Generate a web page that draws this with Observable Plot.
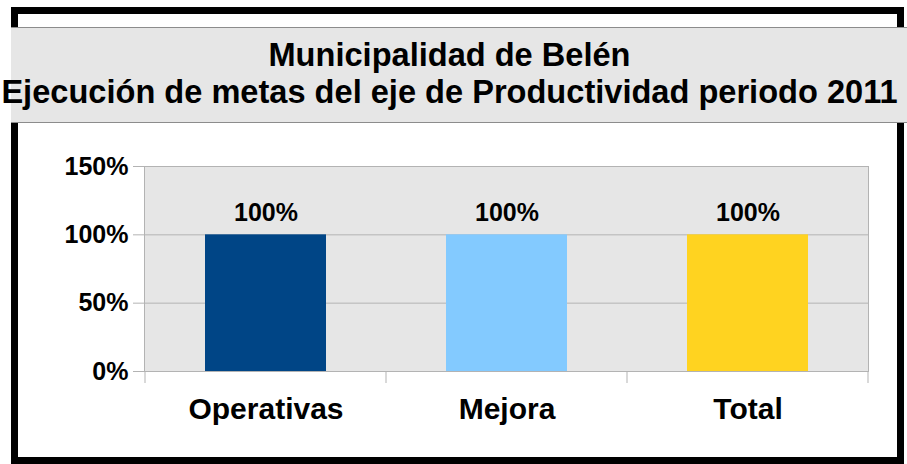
<!DOCTYPE html>
<html>
<head>
<meta charset="utf-8">
<script src="https://cdn.jsdelivr.net/npm/d3@7"></script>
<script src="https://cdn.jsdelivr.net/npm/@observablehq/plot@0.6"></script>
<style>
  html, body { margin: 0; padding: 0; background: #ffffff; }
  #wrap { position: relative; width: 907px; height: 464px; overflow: hidden; background: #fff;
          font-family: "Liberation Sans", Arial, sans-serif; }
  #border { position: absolute; left: 11px; top: 7px; width: 879px; height: 443px;
            border: 7px solid #000; z-index: 2; pointer-events: none; }
  #band { position: absolute; left: 11px; top: 27px; width: 896px; height: 94px;
          background: #e6e6e6; border-top: 1px solid #8c8c8c; border-bottom: 1px solid #8c8c8c; z-index: 3; }
  #title { position: absolute; left: 0; top: 36px; width: 899px; text-align: center; z-index: 4;
           font-weight: bold; font-size: 32.6px; line-height: 37px; color: #000; white-space: nowrap; }
  #chart { position: absolute; left: 0; top: 130px; z-index: 1; }
  #chart svg { background: transparent !important; }
</style>
</head>
<body>
<div id="wrap">
  <div id="border"></div>
  <div id="band"></div>
  <div id="title"><div>Municipalidad de Belén</div><div>Ejecución de metas del eje de Productividad periodo 2011</div></div>
  <div id="chart"></div>
</div>
<script>
const categories = ["Operativas", "Mejora", "Total"];
const values = [1.0, 1.0, 1.0];
const colors = ["#004586", "#83caff", "#ffd320"];
const yTicks = [0, 0.5, 1, 1.5];

const data = categories.map((c, i) => ({cat: c, value: values[i], color: colors[i]}));
const pct = d3.format(".0%");
const font = "'Liberation Sans', Arial, sans-serif";

const chart = Plot.plot({
  width: 907,
  height: 327,
  marginLeft: 144,
  marginRight: 39,
  marginTop: 36,
  marginBottom: 86,
  style: {fontFamily: font, background: "transparent", color: "#000"},
  x: {domain: categories, padding: 0, axis: null, label: null},
  y: {domain: [0, 1.5], axis: null, label: null},
  marks: [
    Plot.frame({fill: "#e6e6e6", stroke: "#b3b3b3"}),
    Plot.gridY(yTicks, {stroke: "#b3b3b3", strokeOpacity: 1}),
    Plot.barY(data, {x: "cat", y: "value", fill: "color", insetLeft: 60, insetRight: 60}),
    Plot.text(data, {x: "cat", y: "value", text: d => pct(d.value), dy: -22,
                     fontSize: 25, fontWeight: "bold", fill: "#000"}),
    Plot.axisY({ticks: yTicks, tickFormat: pct, tickSize: 11, tickPadding: 5, label: null,
                fontSize: 25, fontWeight: "bold", stroke: "#b3b3b3", fill: "#000"}),
    Plot.axisX({tickSize: 0, tickPadding: 26, label: null, fontSize: 30, fontWeight: "bold", fill: "#000"})
  ]
});
document.getElementById("chart").appendChild(chart);

// boundary ticks between categories (drawn from the x scale)
const xs = chart.scale("x");
const ys = chart.scale("y");
const y0 = ys.apply(0);
const bounds = categories.map(c => xs.apply(c)).concat([xs.apply(categories[categories.length - 1]) + xs.bandwidth]);
d3.select(chart).append("g")
  .selectAll("line").data(bounds).join("line")
  .attr("x1", d => d).attr("x2", d => d)
  .attr("y1", y0).attr("y2", y0 + 12)
  .attr("stroke", "#b3b3b3");
</script>
</body>
</html>
